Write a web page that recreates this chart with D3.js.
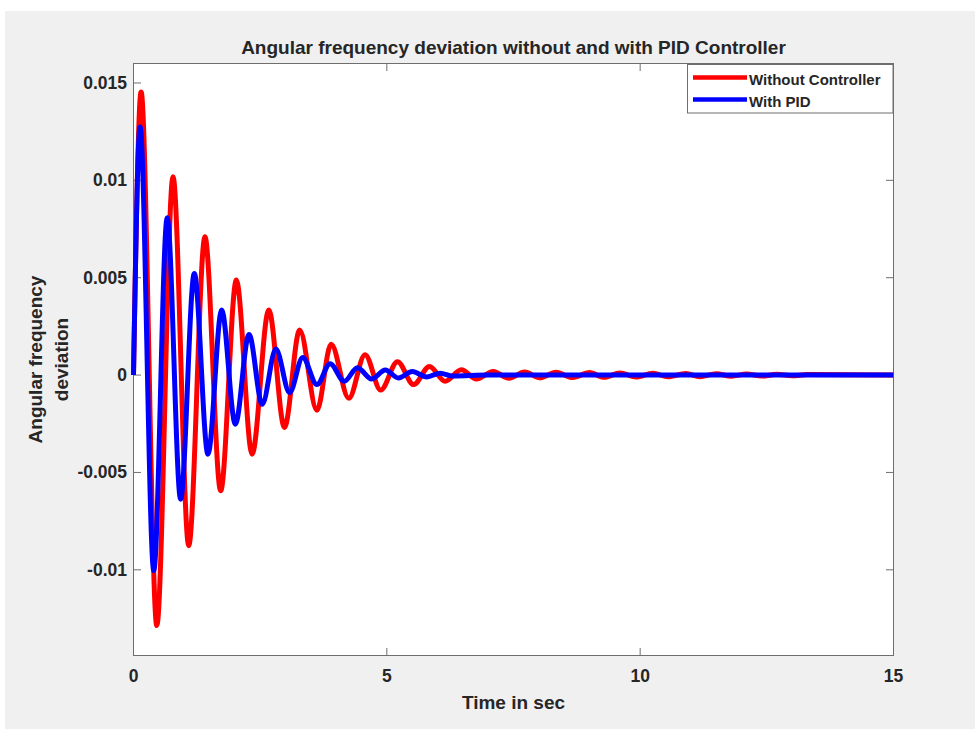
<!DOCTYPE html>
<html>
<head>
<meta charset="utf-8">
<script src="https://cdn.jsdelivr.net/npm/d3@7"></script>
<style>
  body { margin: 0; background: #ffffff; }
  svg text { font-family: "Liberation Sans", Arial, Helvetica, sans-serif; font-weight: bold; fill: #262626; }
</style>
</head>
<body>
<div id="container"></div>
<script>
// peaks and troughs (time in sec, deviation)
var red_time = [0, 0.15, 0.46, 0.78, 1.09, 1.41, 1.72, 2.03, 2.34, 2.67, 2.98, 3.28, 3.62, 3.90, 4.25, 4.57, 4.88, 5.21, 5.53, 5.84, 6.15, 6.47, 6.77, 7.10, 7.41, 7.72, 8.02, 8.34, 8.67, 9.00, 9.29, 9.60, 9.92, 10.25, 10.55, 10.90, 11.18, 11.50, 11.80, 12.10, 12.40, 12.70, 13.00, 13.30, 15]
var red_value = [0, 0.01454, -0.01286, 0.01018, -0.00876, 0.0071, -0.00594, 0.00488, -0.00406, 0.00334, -0.00269, 0.00232, -0.00181, 0.00158, -0.00119, 0.00105, -0.00077, 0.00068, -0.00049, 0.00044, -0.00032, 0.00027, -0.00020, 0.00019, -0.00016, 0.00016, -0.00014, 0.00015, -0.00013, 0.00013, -0.00011, 0.00011, -0.00010, 0.00010, -0.00009, 0.00008, -0.00008, 0.00007, -0.00006, 0.00005, -0.00005, 0.00004, -0.00004, 0.00003, 0]

var pid_time = [0, 0.13, 0.40, 0.665, 0.93, 1.20, 1.47, 1.74, 2.01, 2.28, 2.54, 2.81, 3.08, 3.34, 3.62, 3.88, 4.16, 4.42, 4.70, 4.97, 5.23, 5.50, 5.79, 6.05, 6.30, 7.00, 15]
var pid_value = [0, 0.01274, -0.01004, 0.00808, -0.00637, 0.00522, -0.00406, 0.00334, -0.00252, 0.00209, -0.0015, 0.00134, -0.0009, 0.0009, -0.00049, 0.00058, -0.00032, 0.00038, -0.0002, 0.00026, -0.00015, 0.00018, -0.0001, 0.0001, -0.00005, 0, 0]

var x_ticks = [0, 5, 10, 15]
var y_ticks = [-0.01, -0.005, 0, 0.005, 0.01, 0.015]
var y_tick_labels = ["-0.01", "-0.005", "0", "0.005", "0.01", "0.015"]
var series_names = ["Without Controller", "With PID"]
var series_colors = ["#ff0000", "#0000ff"]

main()

function main() {
    const width = 975
    const height = 730
    const left = 133.5, right = 893.5, top = 63.5, bottom = 655.5

    const svg = d3.select("#container").append("svg")
        .attr("width", width)
        .attr("height", height)

    // figure background
    svg.append("rect")
        .attr("x", 5).attr("y", 11)
        .attr("width", width - 5).attr("height", height - 12)
        .attr("fill", "#f0f0f0")

    const x = d3.scaleLinear().domain([0, 15]).range([left, right])
    const y = d3.scaleLinear().domain([-0.0144, 0.016]).range([bottom, top])

    svg.append("rect")
        .attr("x", left).attr("y", top)
        .attr("width", right - left).attr("height", bottom - top)
        .attr("fill", "#ffffff")

    svg.append("clipPath").attr("id", "plot-clip")
        .append("rect")
        .attr("x", left - 3).attr("y", top)
        .attr("width", right - left + 3).attr("height", bottom - top)

    draw_axes(svg, x, y, left, right, top, bottom)

    var series = [
        red_time.map((t, i) => [t, red_value[i]]),
        pid_time.map((t, i) => [t, pid_value[i]])
    ]

    const line = d3.line()
        .x(d => x(d[0]))
        .y(d => y(d[1]))
        .curve(d3.curveMonotoneX)

    series.forEach((points, i) => {
        svg.append("path")
            .attr("clip-path", "url(#plot-clip)")
            .attr("d", line(points))
            .attr("fill", "none")
            .attr("stroke", series_colors[i])
            .attr("stroke-width", 5)
            .attr("stroke-linejoin", "round")
    })

    draw_legend(svg)

    // title and axis labels
    svg.append("text")
        .attr("x", (left + right) / 2)
        .attr("y", 54)
        .attr("text-anchor", "middle")
        .style("font-size", "19px")
        .text("Angular frequency deviation without and with PID Controller")

    svg.append("text")
        .attr("x", (left + right) / 2)
        .attr("y", 709)
        .attr("text-anchor", "middle")
        .style("font-size", "19px")
        .text("Time in sec")

    var ylab = svg.append("text")
        .attr("transform", `translate(0,${(top + bottom) / 2}) rotate(-90)`)
        .attr("text-anchor", "middle")
        .style("font-size", "19px")
    ylab.append("tspan").attr("x", 0).attr("y", 42).text("Angular frequency")
    ylab.append("tspan").attr("x", 0).attr("y", 68).text("deviation")
}

function draw_axes(svg, x, y, left, right, top, bottom) {
    const tick = 7.5
    const axis_color = "#6e6e6e"
    var g = svg.append("g")

    // ticks on all four sides, pointing inward
    x_ticks.forEach(v => {
        g.append("line").attr("x1", x(v)).attr("x2", x(v))
            .attr("y1", bottom).attr("y2", bottom - tick).attr("stroke", axis_color)
        g.append("line").attr("x1", x(v)).attr("x2", x(v))
            .attr("y1", top).attr("y2", top + tick).attr("stroke", axis_color)
        g.append("text")
            .attr("x", x(v)).attr("y", 682)
            .attr("text-anchor", "middle")
            .style("font-size", "17.5px")
            .text(v)
    })
    y_ticks.forEach((v, i) => {
        g.append("line").attr("x1", left).attr("x2", left + tick)
            .attr("y1", y(v)).attr("y2", y(v)).attr("stroke", axis_color)
        g.append("line").attr("x1", right).attr("x2", right - tick)
            .attr("y1", y(v)).attr("y2", y(v)).attr("stroke", axis_color)
        g.append("text")
            .attr("x", 127).attr("y", y(v) + 6)
            .attr("text-anchor", "end")
            .style("font-size", "17.5px")
            .text(y_tick_labels[i])
    })

    g.append("rect")
        .attr("x", left).attr("y", top)
        .attr("width", right - left).attr("height", bottom - top)
        .attr("fill", "none")
        .attr("stroke", axis_color)
}

function draw_legend(svg) {
    var g = svg.append("g")
    g.append("rect")
        .attr("x", 687.5).attr("y", 64.5)
        .attr("width", 205.5).attr("height", 48.5)
        .attr("fill", "#ffffff")
        .attr("stroke", "#6e6e6e")

    series_names.forEach((name, i) => {
        var ly = 77.5 + i * 22
        g.append("line")
            .attr("x1", 693).attr("x2", 747)
            .attr("y1", ly).attr("y2", ly)
            .attr("stroke", series_colors[i])
            .attr("stroke-width", 4.5)
        g.append("text")
            .attr("x", 749).attr("y", ly + 7.5)
            .style("font-size", "15px")
            .text(name)
    })
}
</script>
</body>
</html>
